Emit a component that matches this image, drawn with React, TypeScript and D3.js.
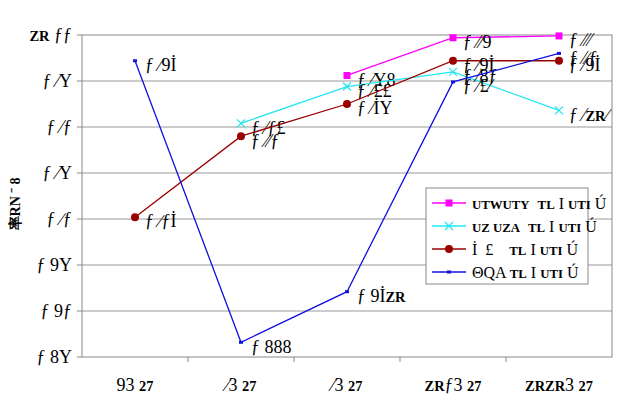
import React from "react";
import * as d3 from "d3";

const categories = ["7", "8", "9", "10", "11"];
const yTicks = [0.65, 0.7, 0.75, 0.8, 0.85, 0.9, 0.95, 1.0];

// legend names: segments, "b:" prefix = bold condensed sans glyphs
const seriesNames = [
  ["b:UTWUTY", "  ", "b:TL", " I ", "b:UTI", " Ú"],
  ["b:UZ UZA", "  ", "b:TL", " I ", "b:UTI", " Ú"],
  ["İ  £  ", "  ", "b:TL", " I ", "b:UTI", " Ú"],
  ["ΘQA ", "b:TL", " I ", "b:UTI", " Ú"],
];
const magentaVals: (number | null)[] = [null, null, 0.956, 0.997, 0.999];
const cyanVals: (number | null)[] = [null, 0.904, 0.944, 0.96, 0.918];
const redVals: (number | null)[] = [0.802, 0.89, 0.925, 0.972, 0.972];
const blueVals: (number | null)[] = [0.972, 0.666, 0.721, 0.949, 0.98];
const yTitle = "率RN ˉ 8";

const glyph: Record<string, string> = {
  "0": "ƒ", "1": "b:ZR", "2": "İ", "4": "£", "5": "Y", "6": "8", "7": "9", "8": "∕", "9": "⁄", ".": " ",
};
const enc = (s: string) => s.split("").map((c) => glyph[c] ?? c);

const W = 625, H = 408;
const M = { left: 82, right: 13, top: 35, bottom: 51 };
const SERIF = "Liberation Serif";
const BOLD = "Liberation Sans Narrow";

const Segs = ({ segs }: { segs: string[] }) => (
  <>
    {segs.map((s, i) =>
      s.startsWith("b:") ? (
        <tspan key={i} fontFamily={BOLD} fontWeight="bold" fontSize="0.8em">
          {s.slice(2)}
        </tspan>
      ) : (
        <tspan key={i}>{s}</tspan>
      )
    )}
  </>
);

export default function App() {
  const x = d3.scaleBand<string>().domain(categories).range([M.left, W - M.right]);
  const y = d3.scaleLinear().domain([0.65, 1.0]).range([H - M.bottom, M.top]);
  const cx = (c: string) => (x(c) ?? 0) + x.bandwidth() / 2;

  const series = [
    { vals: magentaVals, color: "#FF00FF", marker: "square" },
    { vals: cyanVals, color: "#22E6F0", marker: "x" },
    { vals: redVals, color: "#990000", marker: "circle" },
    { vals: blueVals, color: "#1010E0", marker: "dash" },
  ];

  const line = d3
    .line<[string, number | null]>()
    .defined((d) => d[1] != null)
    .x((d) => cx(d[0]))
    .y((d) => y(d[1] as number));

  const marker = (m: string, px: number, py: number, color: string, key: string) => {
    if (m === "square") return <rect key={key} x={px - 3.5} y={py - 3.5} width={7} height={7} fill={color} />;
    if (m === "circle") return <circle key={key} cx={px} cy={py} r={4} fill={color} />;
    if (m === "x")
      return (
        <path key={key} d={`M${px - 4},${py - 4}L${px + 4},${py + 4}M${px - 4},${py + 4}L${px + 4},${py - 4}`} stroke={color} strokeWidth={1.2} />
      );
    return <rect key={key} x={px - 2} y={py - 1.5} width={4} height={3} fill={color} />;
  };

  const legendX = 426, legendY = 188;
  return (
    <svg width={W} height={H} style={{ position: "absolute", left: 0, top: 0 }} fontFamily={SERIF}>
      <rect width={W} height={H} fill="#fff" />
      {yTicks.slice(1, -1).map((t) => (
        <line key={t} x1={M.left} x2={W - M.right} y1={y(t)} y2={y(t)} stroke="#999" strokeWidth={1} />
      ))}
      <rect x={M.left} y={M.top} width={W - M.left - M.right} height={H - M.top - M.bottom} fill="none" stroke="#888" strokeWidth={1} />
      {yTicks.map((t) => (
        <g key={"yt" + t}>
          <line x1={M.left - 5} x2={M.left} y1={y(t)} y2={y(t)} stroke="#888" />
          <text x={M.left - 10} y={y(t)} dy="0.35em" textAnchor="end" fontSize={18}>
            <Segs segs={enc(t.toFixed(2))} />
          </text>
        </g>
      ))}
      {categories.slice(1).map((c) => (
        <line key={"xt" + c} x1={x(c)} x2={x(c)} y1={H - M.bottom} y2={H - M.bottom + 5} stroke="#888" />
      ))}
      {categories.map((c) => (
        <text key={"xl" + c} x={cx(c)} y={391} textAnchor="middle" fontSize={18}>
          <Segs segs={[...enc(c), "3  ", "b:27"]} />
        </text>
      ))}
      <text transform={`translate(20,${(M.top + H - M.bottom) / 2 + 8}) rotate(-90)`} textAnchor="middle" fontSize={14} fontWeight="bold" fontFamily={BOLD}>
        {yTitle}
      </text>
      {series.map((s, si) => {
        const pts = categories.map((c, i) => [c, s.vals[i]] as [string, number | null]);
        return (
          <g key={"s" + si}>
            <path d={line(pts) ?? ""} fill="none" stroke={s.color} strokeWidth={1.3} />
            {pts.filter((p) => p[1] != null).map((p, i) => marker(s.marker, cx(p[0]), y(p[1] as number), s.color, "m" + i))}
            {pts.filter((p) => p[1] != null).map((p, i) => (
              <text key={"l" + i} x={cx(p[0]) + 10} y={y(p[1] as number) + 4} dy="0.35em" fontSize={18}>
                <Segs segs={enc((p[1] as number).toFixed(3))} />
              </text>
            ))}
          </g>
        );
      })}
      <rect x={legendX} y={legendY} width={162} height={96} fill="#fff" stroke="#888" />
      {series.map((s, i) => {
        const ly = legendY + 15 + i * 23;
        return (
          <g key={"lg" + i}>
            <line x1={legendX + 6} x2={legendX + 40} y1={ly} y2={ly} stroke={s.color} strokeWidth={1.3} />
            {marker(s.marker, legendX + 23, ly, s.color, "lm" + i)}
            <text x={legendX + 46} y={ly} dy="0.35em" fontSize={16} style={{ whiteSpace: "pre" }}>
              <Segs segs={seriesNames[i]} />
            </text>
          </g>
        );
      })}
    </svg>
  );
}
